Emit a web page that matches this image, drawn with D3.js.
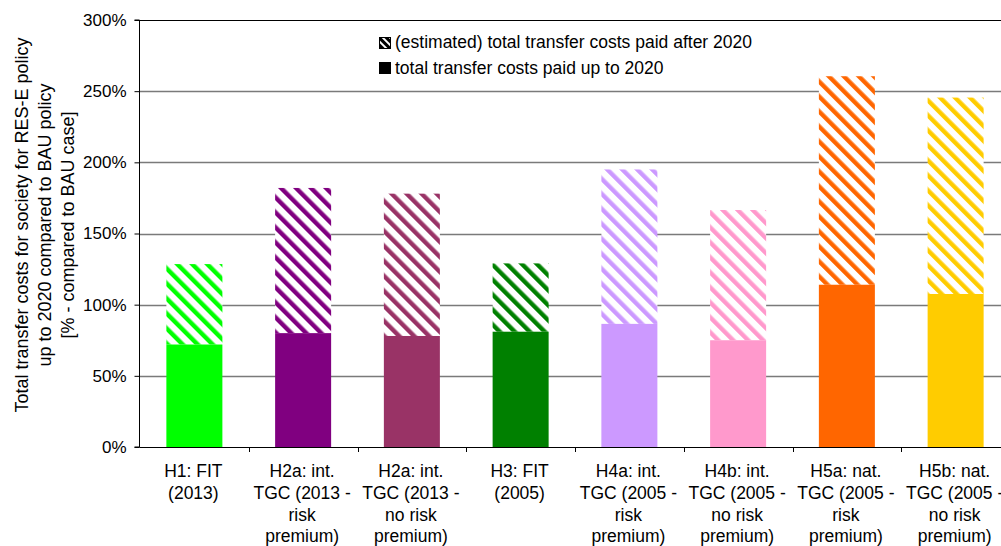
<!DOCTYPE html>
<html>
<head>
<meta charset="utf-8">
<script src="https://cdn.jsdelivr.net/npm/d3@7"></script>
<style>
  html, body { margin: 0; padding: 0; background: #fff; }
  svg { display: block; font-family: "Liberation Sans", Arial, sans-serif; }
</style>
</head>
<body>
<svg id="chart" width="1001" height="546"></svg>
<script>
// Scenario labels (one array entry per wrapped line)
const categories = [
  ["H1: FIT", "(2013)"],
  ["H2a: int.", "TGC (2013 -", "risk", "premium)"],
  ["H2a: int.", "TGC (2013 -", "no risk", "premium)"],
  ["H3: FIT", "(2005)"],
  ["H4a: int.", "TGC (2005 -", "risk", "premium)"],
  ["H4b: int.", "TGC (2005 -", "no risk", "premium)"],
  ["H5a: nat.", "TGC (2005 -", "risk", "premium)"],
  ["H5b: nat.", "TGC (2005 -", "no risk", "premium)"]
];
// Transfer costs paid up to 2020 (% of BAU case)
const paidUpTo2020 = [72, 80, 78, 81, 86.5, 75, 114, 107.5];
// Total incl. estimated transfer costs paid after 2020 (% of BAU case)
const totalInclAfter2020 = [128.5, 182, 178, 129, 195, 166.5, 260.5, 245.5];
const barColors = ["#00ff00", "#800080", "#993366", "#008000", "#cc99ff", "#ff99cc", "#ff6600", "#ffcc00"];
const yTicks = [0, 50, 100, 150, 200, 250, 300];
const legendLabels = ["(estimated) total transfer costs paid after 2020", "total transfer costs paid up to 2020"];
const yTitle = ["Total transfer costs for society for RES-E policy", "up to 2020 compared to BAU policy", "[% - compared to BAU case]"];

const svg = d3.select("#chart");
const plot = { left: 140, right: 1010, top: 20, bottom: 447 };

const idx = d3.range(categories.length);
const x = d3.scaleBand().domain(idx).range([plot.left, plot.right]).padding(0);
const barW = x.bandwidth() * 0.515;
const y = d3.scaleLinear().domain([0, 300]).range([plot.bottom, plot.top]);

// Hatch patterns: "\" diagonal stripes on white
const defs = svg.append("defs");
barColors.forEach((c, i) => {
  const p = defs.append("pattern")
    .attr("id", "hatch" + i)
    .attr("patternUnits", "userSpaceOnUse")
    .attr("width", 10.6).attr("height", 10.6)
    .attr("patternTransform", "rotate(-45)");
  p.append("rect").attr("width", 10.6).attr("height", 10.6).attr("fill", "#fff");
  p.append("rect").attr("x", 0).attr("width", 4.4).attr("height", 10.6).attr("fill", c);
});
const lp = defs.append("pattern")
  .attr("id", "hatchLegend")
  .attr("patternUnits", "userSpaceOnUse")
  .attr("width", 5).attr("height", 5)
  .attr("patternTransform", "rotate(-45)");
lp.append("rect").attr("width", 5).attr("height", 5).attr("fill", "#fff");
lp.append("rect").attr("width", 3).attr("height", 5).attr("fill", "#000");

// Gridlines
svg.append("g")
  .selectAll("line")
  .data(yTicks.filter(t => t > 0 && t < 300))
  .join("line")
  .attr("x1", plot.left).attr("x2", plot.right)
  .attr("y1", d => Math.round(y(d)) + 0.5).attr("y2", d => Math.round(y(d)) + 0.5)
  .attr("stroke", "#7a7a7a").attr("stroke-width", 1.6);

// Top border of plot
svg.append("line")
  .attr("x1", plot.left).attr("x2", plot.right)
  .attr("y1", y(300) + 0.5).attr("y2", y(300) + 0.5)
  .attr("stroke", "#000").attr("stroke-width", 1.2);

// Bars: hatched portion (after 2020) stacked on solid portion (up to 2020)
const bars = svg.append("g");
bars.selectAll("rect.after")
  .data(idx)
  .join("rect")
  .attr("class", "after")
  .attr("x", i => x(i) + (x.bandwidth() - barW) / 2)
  .attr("width", barW)
  .attr("y", i => y(totalInclAfter2020[i]))
  .attr("height", i => y(paidUpTo2020[i]) - y(totalInclAfter2020[i]))
  .attr("fill", i => `url(#hatch${i})`);
bars.selectAll("rect.upto")
  .data(idx)
  .join("rect")
  .attr("class", "upto")
  .attr("x", i => x(i) + (x.bandwidth() - barW) / 2)
  .attr("width", barW)
  .attr("y", i => y(paidUpTo2020[i]))
  .attr("height", i => y(0) - y(paidUpTo2020[i]))
  .attr("fill", i => barColors[i]);

// Y axis
const yAxis = d3.axisLeft(y).tickValues(yTicks).tickFormat(d => d + "%").tickSize(5).tickPadding(8);
const gy = svg.append("g").attr("transform", `translate(${plot.left - 0.5},0)`).call(yAxis);
gy.select(".domain").attr("stroke", "#000").attr("d", `M-5,${y(300)}H0V${y(0)}H-5`);
gy.selectAll(".tick line").attr("stroke", "#000");
gy.selectAll("text").attr("font-size", 17).attr("fill", "#000").attr("font-family", "Liberation Sans, Arial, sans-serif");

// X axis with ticks at band boundaries
const gx = svg.append("g");
gx.append("line")
  .attr("x1", plot.left - 0.5).attr("x2", plot.right)
  .attr("y1", plot.bottom + 0.5).attr("y2", plot.bottom + 0.5)
  .attr("stroke", "#000");
gx.selectAll("line.tk")
  .data(idx.slice(1))
  .join("line")
  .attr("class", "tk")
  .attr("x1", i => Math.round(x(i)) + 0.5).attr("x2", i => Math.round(x(i)) + 0.5)
  .attr("y1", plot.bottom).attr("y2", plot.bottom + 5)
  .attr("stroke", "#000");
gx.selectAll("text")
  .data(idx)
  .join("text")
  .attr("text-anchor", "middle")
  .attr("font-size", 17.5)
  .attr("fill", "#000")
  .each(function (i) {
    const t = d3.select(this);
    categories[i].forEach((line, k) => {
      t.append("tspan")
        .attr("x", x(i) + x.bandwidth() / 2 - 1)
        .attr("y", 477 + k * 21.8)
        .text(line);
    });
  });

// Y axis title
const yt = svg.append("text")
  .attr("transform", `translate(0,225) rotate(-90)`)
  .attr("text-anchor", "middle")
  .attr("font-size", 18)
  .attr("fill", "#000");
yTitle.forEach((line, k) => {
  yt.append("tspan").attr("x", 0).attr("y", 28 + k * 23.2).text(line);
});

// Legend
const legend = svg.append("g");
const legendFills = ["url(#hatchLegend)", "#000"];
legendLabels.forEach((label, k) => {
  const ly = 37.5 + k * 25;
  legend.append("rect")
    .attr("x", 379.5).attr("y", ly)
    .attr("width", 11).attr("height", 11)
    .attr("fill", legendFills[k])
    .attr("stroke", "#000").attr("stroke-width", 1);
  legend.append("text")
    .attr("x", 395).attr("y", 48 + k * 26)
    .attr("font-size", 17.5)
    .attr("fill", "#000")
    .text(label);
});
</script>
</body>
</html>
